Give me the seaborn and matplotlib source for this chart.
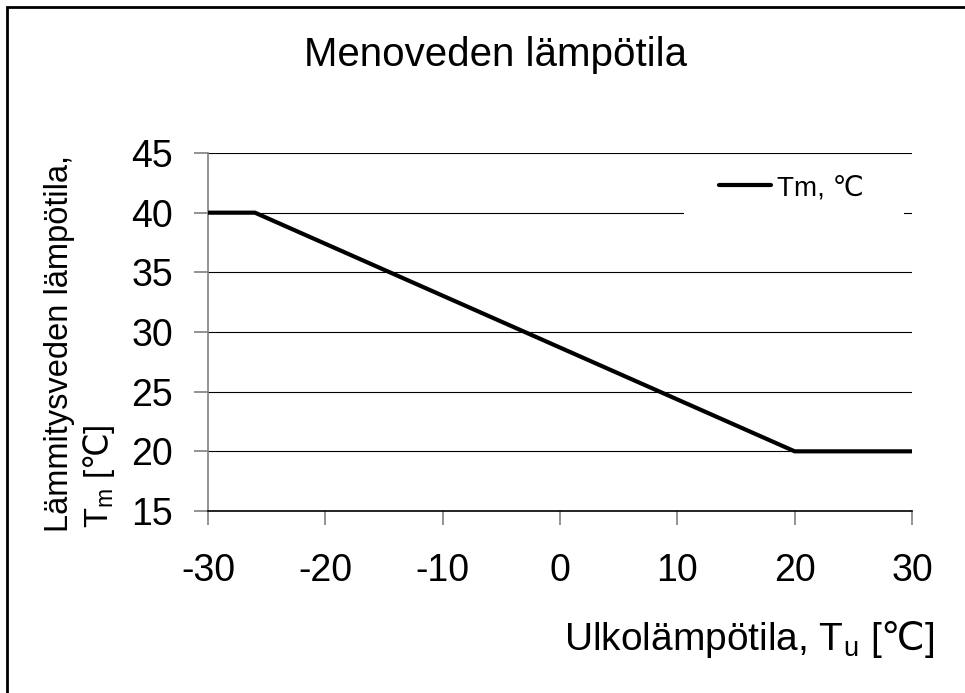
import matplotlib
matplotlib.use("Agg")
import matplotlib.pyplot as plt
import seaborn as sns
import pandas as pd
from matplotlib.patches import Rectangle

outdoor_temp = [-30, -26, 20, 30]
supply_temp = [40, 40, 20, 20]
x_ticks = [-30, -20, -10, 0, 10, 20, 30]
y_ticks = [15, 20, 25, 30, 35, 40, 45]

sns.set_theme(style="white")
plt.rcParams['font.family'] = ['Liberation Sans', 'DejaVu Sans']
plt.rcParams['mathtext.fontset'] = 'custom'
plt.rcParams['mathtext.rm'] = 'Liberation Sans'
plt.rcParams['mathtext.it'] = 'Liberation Sans'
plt.rcParams['mathtext.sf'] = 'DejaVu Sans'
plt.rcParams['text.color'] = 'black'
plt.rcParams['xtick.labelcolor'] = 'black'
plt.rcParams['ytick.labelcolor'] = 'black'
plt.rcParams['legend.labelcolor'] = 'black'

df = pd.DataFrame({"x": outdoor_temp, "y": supply_temp})

W, H = 965, 693
fig = plt.figure(figsize=(9.65, 6.93), dpi=100)
ax = fig.add_axes([208/W, 1 - 511/H, (912-208)/W, (511-153)/H])

sns.lineplot(data=df, x="x", y="y", ax=ax, color="black", linewidth=3,
             label="Tm, \u2103", zorder=5)

ax.set_xlim(-30, 30)
ax.set_ylim(15, 45)
ax.set_xticks(x_ticks)
ax.set_yticks(y_ticks)
ax.set_xticklabels([str(v) for v in x_ticks], fontsize=27, color="black")
ax.set_yticklabels([str(v) for v in y_ticks], fontsize=27, color="black")
ax.yaxis.grid(True, color="black", linewidth=0.8, zorder=0)
ax.xaxis.grid(False)
for s in ["top", "right"]:
    ax.spines[s].set_visible(False)
ax.spines["left"].set_color("#808080")
ax.spines["bottom"].set_color("black")
ax.spines["left"].set_linewidth(1.2)
ax.spines["bottom"].set_linewidth(1.2)
ax.tick_params(axis="y", direction="out", length=10, color="#808080", width=1.2, pad=15, left=True)
ax.tick_params(axis="x", direction="out", length=10, color="#808080", width=1.2, pad=20, bottom=True)
ax.set_axisbelow(True)

ax.set_xlabel("")
ax.set_ylabel("")

# white box behind legend (covers gridline)
ax.add_patch(Rectangle((0.676, 0.785), 0.3125, 0.195, transform=ax.transAxes,
                       facecolor="white", edgecolor="none", zorder=2))
leg = ax.legend(loc="center left", bbox_to_anchor=(0.726, 0.902), fontsize=20, frameon=False,
                handlelength=1.87, handletextpad=0.2, borderpad=0, borderaxespad=0)
leg.set_zorder(6)
for t in leg.get_texts():
    t.set_color("black")

fig.text(935/W, 1 - 640/H, "Ulkolämpötila, T$_\\mathregular{u}$ [$\\mathsf{\u2103}$]", fontsize=28,
         ha="right", va="center", color="black")
fig.text(60/W, 1 - 343/H, "Lämmitysveden lämpötila,", fontsize=23.5, rotation=90,
         ha="center", va="center", color="black")
fig.text(99/W, 1 - 528/H, "T$_\\mathregular{m}$ [$\\mathsf{\u2103}$]", fontsize=23.5, rotation=90,
         ha="center", va="bottom", color="black")
fig.text(496/W, 1 - 55/H, "Menoveden lämpötila", fontsize=29, ha="center", va="center",
         color="black")

fig.patches.append(Rectangle((7/W, -0.05), 2, 1 - 7/H + 0.05, transform=fig.transFigure,
                             fill=False, edgecolor="black", linewidth=2))

fig.savefig("out.png", dpi=100, facecolor="white")
